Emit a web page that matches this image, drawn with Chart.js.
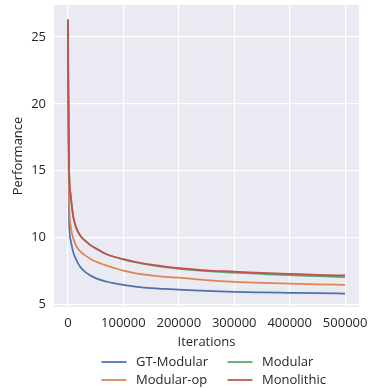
<!DOCTYPE html>
<html>
<head>
<meta charset="utf-8">
<script src="https://cdn.jsdelivr.net/npm/chart.js@4"></script>
<style>
  html, body { margin: 0; padding: 0; background: #ffffff; }
  #wrap { width: 368px; height: 388px; }
</style>
</head>
<body>
<div id="wrap"><canvas id="perfChart" width="368" height="388"></canvas></div>
<script>
var iterations = [0, 2000, 5000, 10000, 15000, 20000, 25000, 30000, 40000, 50000, 60000, 70000, 80000,
    100000, 125000, 150000, 175000, 200000, 250000, 300000, 350000, 400000, 450000, 500000];

var gtModular = [26.3, 11.8, 9.8, 8.85, 8.35, 7.95, 7.67, 7.47, 7.17, 6.96, 6.81, 6.7, 6.6,
    6.45, 6.31, 6.21, 6.15, 6.1, 6.0, 5.93, 5.89, 5.86, 5.83, 5.81];
var modularOp = [26.3, 13.5, 10.9, 9.9, 9.38, 9.07, 8.86, 8.7, 8.42, 8.2, 8.04, 7.9, 7.77,
    7.52, 7.3, 7.16, 7.06, 6.99, 6.81, 6.68, 6.6, 6.55, 6.5, 6.46];
var modular = [26.3, 15.5, 13.2, 11.5, 10.75, 10.3, 10.0, 9.8, 9.45, 9.2, 8.95, 8.75, 8.6,
    8.36, 8.12, 7.93, 7.78, 7.66, 7.48, 7.37, 7.27, 7.18, 7.11, 7.04];
var monolithic = [26.3, 15.5, 13.2, 11.5, 10.75, 10.3, 10.0, 9.8, 9.45, 9.2, 8.95, 8.75, 8.6,
    8.38, 8.15, 7.97, 7.83, 7.71, 7.55, 7.45, 7.35, 7.28, 7.21, 7.16];

var seriesNames = ['GT-Modular', 'Modular-op', 'Modular', 'Monolithic'];
var seriesColors = ['#4C72B0', '#DD8452', '#55A868', '#C44E52'];

var xTicks = [0, 100000, 200000, 300000, 400000, 500000];
var yTicks = [5, 10, 15, 20, 25];

function toPoints(ys){
    return iterations.map(function(x, i){ return {x: x, y: ys[i]}; });
}

var allSeries = [gtModular, modularOp, modular, monolithic];
var textColor = '#262626';
var font = {family: '"Open Sans"', size: 13};

// grey panel behind the plot, seaborn style
var panelBg = {
    id: 'panelBg',
    beforeDraw: function(chart){
        var a = chart.chartArea, c = chart.ctx;
        c.save();
        c.fillStyle = '#EAEAF2';
        c.fillRect(a.left, a.top, a.right - a.left, a.bottom - a.top);
        c.restore();
    }
};

// 2x2 legend under the axis
var gridLegend = {
    id: 'gridLegend',
    afterDraw: function(chart){
        var c = chart.ctx;
        var cols = [101.5, 227.5];
        var rows = [362, 380];
        var order = [[0, 2], [1, 3]];
        c.save();
        c.font = '13px "Open Sans"';
        c.textBaseline = 'middle';
        c.fillStyle = textColor;
        c.lineWidth = 1.75;
        for (var r = 0; r < 2; r++){
            for (var k = 0; k < 2; k++){
                var i = order[r][k];
                c.strokeStyle = seriesColors[i];
                c.beginPath();
                c.moveTo(cols[k], rows[r]);
                c.lineTo(cols[k] + 25, rows[r]);
                c.stroke();
                c.fillText(seriesNames[i], cols[k] + 34.5, rows[r]);
            }
        }
        c.restore();
    }
};

// later series go on top, like matplotlib
var datasets = allSeries.map(function(ys, i){
    return {
        label: seriesNames[i],
        data: toPoints(ys),
        borderColor: seriesColors[i],
        backgroundColor: seriesColors[i],
        borderWidth: 1.75,
        pointRadius: 0,
        showLine: true,
        cubicInterpolationMode: 'monotone',
        fill: false,
        order: allSeries.length - i
    };
});

const config = {
    type: 'scatter',
    data: {datasets: datasets},
    options: {
        responsive: false,
        animation: false,
        layout: {padding: {left: 0, right: 9, top: 5, bottom: 38}},
        plugins: {
            legend: {display: false},
            tooltip: {enabled: false}
        },
        scales: {
            x: {
                type: 'linear',
                min: -25000,
                max: 525000,
                afterBuildTicks: function(axis){
                    axis.ticks = xTicks.map(function(v){ return {value: v}; });
                },
                afterFit: function(axis){
                    axis.height = 43;
                    axis.paddingLeft = 0;
                    axis.paddingRight = 0;
                },
                border: {display: false},
                grid: {color: '#ffffff', lineWidth: 1.2, drawTicks: false},
                ticks: {
                    color: textColor, font: font, padding: 8, maxRotation: 0,
                    callback: function(v){ return String(v); }
                },
                title: {display: true, text: 'Iterations', color: textColor, font: font, padding: {top: 2, bottom: 0}}
            },
            y: {
                min: 4.8,
                max: 27.4,
                afterBuildTicks: function(axis){
                    axis.ticks = yTicks.map(function(v){ return {value: v}; });
                },
                afterFit: function(axis){
                    axis.width = 54;
                    axis.paddingTop = 0;
                    axis.paddingBottom = 0;
                },
                border: {display: false},
                grid: {color: '#ffffff', lineWidth: 1.2, drawTicks: false},
                ticks: {color: textColor, font: font, padding: 8},
                title: {display: true, text: 'Performance', color: textColor, font: font, padding: {top: 10, bottom: 0}}
            }
        }
    },
    plugins: [panelBg, gridLegend]
};

const perfChart = new Chart(document.getElementById('perfChart'), config);
</script>
</body>
</html>
